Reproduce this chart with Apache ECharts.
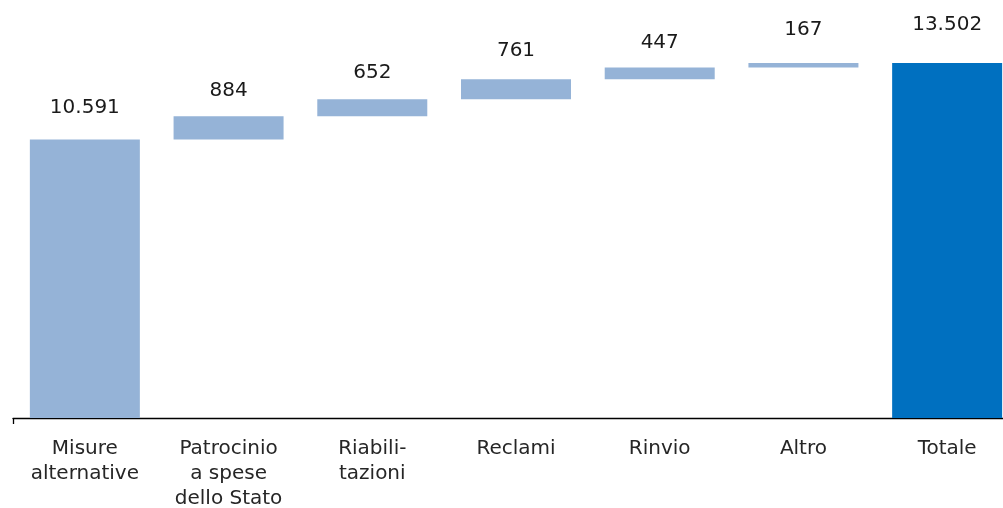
<!DOCTYPE html>
<html>
<head>
<meta charset="utf-8">
<script src="https://cdn.jsdelivr.net/npm/echarts@6/dist/echarts.min.js"></script>
<style>
  html, body { margin: 0; padding: 0; background: #fff; }
  #chart { width: 1003px; height: 508px; }
</style>
</head>
<body>
<div id="chart"></div>
<script>
// Categories along the x axis
const categories = [
  'Misure\nalternative',
  'Patrocinio\na spese\ndello Stato',
  'Riabili-\ntazioni',
  'Reclami',
  'Rinvio',
  'Altro',
  'Totale'
];
// Starting value, then increments per component
const startValue = 10591;
const increments = [884, 652, 761, 447, 167];
const totalValue = 13502;

// Gap between each bar top and its value label (px)
const labelGap = [22, 16, 16, 18, 15, 23, 28];

const LIGHT = '#95b3d7';
const DARK = '#0070c0';

function fmt(v) {
  return String(v).replace(/\B(?=(\d{3})+(?!\d))/g, '.');
}

// Build invisible base + visible segment for the waterfall
const base = [0];
const visible = [startValue];
let running = startValue;
increments.forEach(v => {
  base.push(running);
  visible.push(v);
  running += v;
});
base.push(0);
visible.push(totalValue);

const visibleData = visible.map((v, i) => ({
  value: v,
  itemStyle: { color: i === visible.length - 1 ? DARK : LIGHT },
  label: { distance: labelGap[i] }
}));

const chart = echarts.init(document.getElementById('chart'), null, { renderer: 'canvas' });
chart.setOption({
  animation: false,
  grid: {
    left: 13, top: 50, width: 1006, height: 368,
    containLabel: false,
    outerBoundsMode: 'none'
  },
  xAxis: {
    type: 'category',
    data: categories,
    boundaryGap: true,
    axisLine: { show: true, lineStyle: { color: '#000', width: 1.3 } },
    axisTick: {
      show: true,
      length: 6,
      interval: (idx) => idx === 0,
      lineStyle: { color: '#000', width: 1.3 }
    },
    axisLabel: {
      interval: 0,
      margin: 18,
      color: '#262626',
      fontFamily: 'DejaVu Sans',
      fontSize: 20,
      lineHeight: 25,
      align: 'center'
    }
  },
  yAxis: {
    type: 'value',
    min: 0,
    max: 14000,
    show: false,
    splitLine: { show: false }
  },
  series: [
    {
      type: 'bar',
      stack: 'wf',
      data: base,
      barWidth: 110,
      itemStyle: { color: 'transparent' },
      emphasis: { disabled: true },
      silent: true
    },
    {
      type: 'bar',
      stack: 'wf',
      data: visibleData,
      barWidth: 110,
      label: {
        show: true,
        position: 'top',
        color: '#1a1a1a',
        fontFamily: 'DejaVu Sans',
        fontSize: 20,
        lineHeight: 20,
        formatter: (p) => fmt(p.value)
      }
    }
  ]
});
</script>
</body>
</html>
